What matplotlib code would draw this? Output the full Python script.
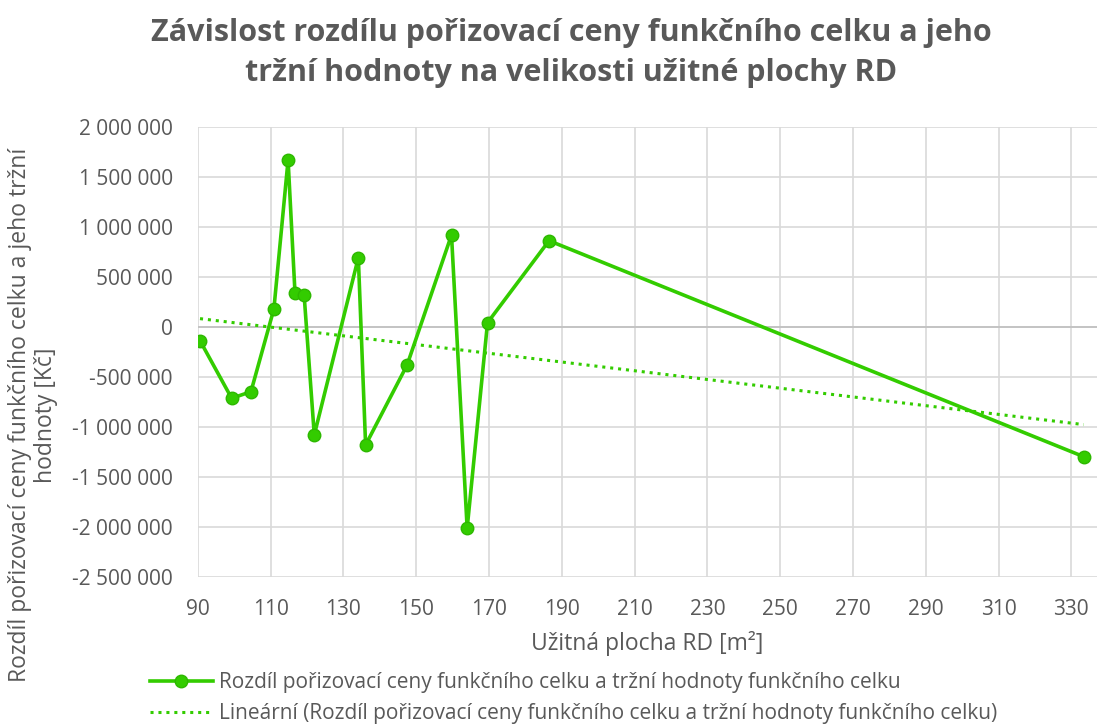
import numpy as np
import matplotlib
matplotlib.use("Agg")
import matplotlib.pyplot as plt
from matplotlib.ticker import FuncFormatter, MultipleLocator

plt.rcParams['font.family'] = ['Open Sans', 'DejaVu Sans']

# ===== DATA =====
plocha = [90.6, 99.3, 104.6, 110.9, 114.8, 116.7, 119.2, 122.0, 134.1, 136.1,
          147.5, 159.7, 164.0, 169.6, 186.5, 333.4]
rozdil = [-140000, -716000, -650000, 177000, 1667000, 337000, 320000, -1083000,
          690000, -1183000, -383000, 917000, -2016000, 40000, 860000, -1300000]
x_ticks = list(range(90, 331, 20))

x = np.array(plocha)
y = np.array(rozdil)

zelena = '#33CC00'
seda = '#595959'

fig = plt.figure(figsize=(10.99, 7.24), dpi=100)
ax = fig.add_axes([0.18, 0.2035, 0.818, 0.6215])

ax.plot(x, y, color=zelena, lw=2.6, marker='o', ms=9, mfc=zelena, mec='#2db800',
        label='Rozdíl pořizovací ceny funkčního celku a tržní hodnoty funkčního celku', zorder=3)

# ===== TREND =====
k, q = np.polyfit(x, y, 1)
xt = np.array([x.min(), x.max()])
ax.plot(xt, k * xt + q, color=zelena, lw=2.2, ls=(0, (1, 1.6)),
        label='Lineární (Rozdíl pořizovací ceny funkčního celku a tržní hodnoty funkčního celku)', zorder=2)

ax.set_xlim(90, 337)
ax.set_ylim(-2500000, 2000000)
ax.set_xticks(x_ticks)
ax.yaxis.set_major_locator(MultipleLocator(500000))
ax.yaxis.set_major_formatter(FuncFormatter(lambda v, p: f"{int(v):,}".replace(",", " ")))
ax.grid(True, color='#d9d9d9', lw=1.2)
ax.axhline(0, color='#bfbfbf', lw=1.2, zorder=1)
ax.set_axisbelow(True)
for s in ax.spines.values():
    s.set_visible(False)
ax.tick_params(length=0, labelsize=15, colors=seda)
ax.tick_params(axis='y', pad=18)
ax.tick_params(axis='x', pad=16)

ax.set_xlabel('Užitná plocha RD [m²]', fontsize=16.5, color=seda, labelpad=8)
fig.text(0.03, 1 - 415 / 724,
         'Rozdíl pořizovací ceny funkčního celku a jeho tržní\nhodnoty [Kč]',
         rotation=90, ha='center', va='center', fontsize=16.5, color=seda,
         multialignment='center', linespacing=1.1)

fig.text(0.52, 1 - 53 / 724,
         'Závislost rozdílu pořizovací ceny funkčního celku a jeho\ntržní hodnoty na velikosti užitné plochy RD',
         ha='center', va='center', fontsize=22, fontweight='bold', color=seda, linespacing=1.45)

leg = fig.legend(loc='upper left', bbox_to_anchor=(150 / 1099, 1 - 672 / 724), frameon=False,
                 fontsize=15, handlelength=3, handletextpad=0.3, labelcolor=seda,
                 labelspacing=0.5, borderpad=0, borderaxespad=0)

fig.savefig('out.png', dpi=100)
